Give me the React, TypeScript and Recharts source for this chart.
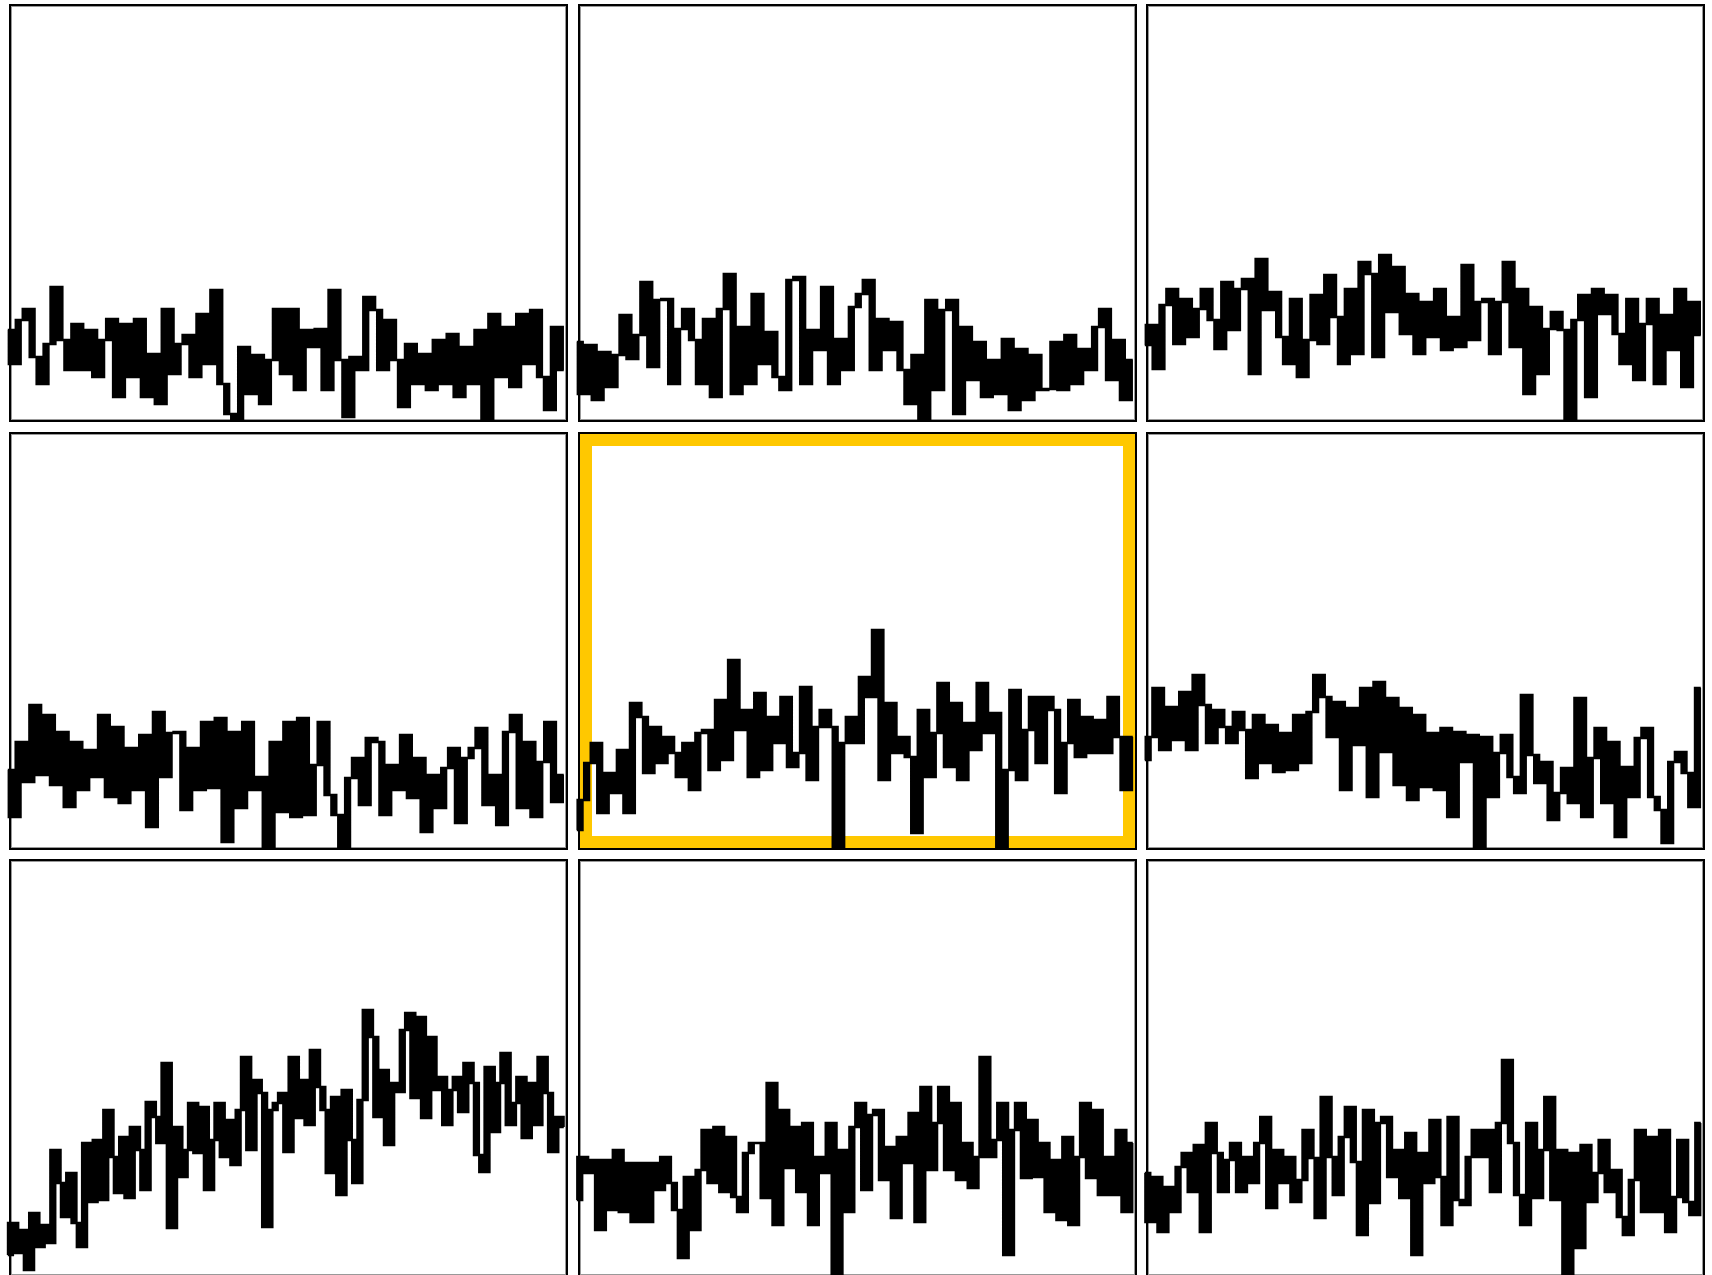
import React from 'react';
import { LineChart, Line, XAxis, YAxis } from 'recharts';

// Heights of each series, in the panel's own units (0 = panel bottom, 418 = panel top)
const panel1 = [92,58,102,113,65,38,78,135,82,52,98,52,92,45,82,103,25,98,45,103,25,68,18,113,48,78,87,45,108,58,132,38,8,0,75,28,67,18,62,113,48,113,32,92,75,93,32,132,62,5,65,52,125,112,52,102,62,15,78,38,68,32,82,38,88,25,75,38,92,0,108,45,95,35,108,58,112,45,12,95,52];
const panel2 = [80,28,77,22,70,35,67,107,63,87,140,55,122,123,38,93,113,82,38,103,25,113,148,28,95,38,128,58,90,45,32,142,145,38,92,72,135,38,83,52,115,128,142,52,103,72,100,52,18,67,0,122,32,112,122,8,95,42,80,25,62,28,83,12,73,22,67,32,33,80,32,87,38,73,52,95,113,42,82,22,62];
const panel3 = [77,97,53,117,133,78,123,85,113,133,102,73,140,92,133,143,48,163,112,130,85,58,123,45,82,127,78,147,105,58,133,68,160,148,65,167,110,155,88,128,68,120,85,133,72,105,75,157,82,120,123,68,120,160,75,133,28,115,48,93,110,92,0,102,127,25,133,108,127,88,58,123,42,98,123,38,107,72,133,35,120,87];
const panel4 = [80,33,108,68,145,75,135,65,118,43,108,60,100,73,135,53,123,47,102,60,115,23,138,73,117,118,40,102,60,128,62,132,8,118,42,128,60,73,0,108,38,128,33,132,35,85,128,55,35,0,72,92,45,112,108,35,85,60,115,52,92,18,75,42,82,102,27,92,102,122,45,75,25,118,135,42,108,33,88,128,48,75];
const panel5 = [20,50,87,107,37,77,57,100,37,147,133,77,123,87,113,97,73,107,60,117,120,80,150,90,190,120,140,73,157,80,133,107,153,83,97,163,70,123,140,123,0,107,133,107,173,153,220,70,147,97,113,93,17,140,73,117,167,83,147,70,127,100,167,117,137,0,80,160,70,120,153,87,153,140,57,107,150,93,133,97,130,97,153,113,60,113];
const panel6 = [90,113,162,100,143,110,158,100,175,145,107,140,123,107,138,120,72,135,87,125,78,117,80,135,87,138,175,153,113,148,60,142,105,162,53,168,98,152,65,142,50,135,63,117,60,122,33,118,88,115,0,113,53,97,115,73,57,155,95,67,88,30,57,82,47,152,33,92,122,47,108,13,83,53,112,122,53,40,7,88,98,77,43,162];
const panel7 = [22,54,24,47,7,64,30,52,34,127,94,60,104,54,30,134,75,137,77,167,120,84,140,79,150,127,87,175,160,134,214,49,150,100,127,174,124,170,87,137,174,120,157,112,167,220,127,197,184,50,167,174,184,125,220,159,197,152,227,190,167,104,180,82,187,137,94,177,267,240,160,207,132,194,185,247,264,179,260,159,240,187,200,152,187,200,165,214,194,122,105,210,145,194,224,152,174,200,139,194,152,220,184,125,160,150];
const panel8 = [77,120,104,117,47,117,67,127,65,114,55,114,55,114,87,120,94,67,19,100,47,107,147,94,150,85,140,80,65,124,134,134,79,194,52,167,109,150,85,154,52,120,104,154,2,127,65,150,174,87,162,167,97,130,59,140,114,164,55,190,107,154,190,107,174,97,134,89,120,220,120,137,174,22,147,174,99,157,100,134,65,117,57,140,52,120,174,99,167,82,120,82,147,65,134];
const panel9 = [104,55,100,45,90,65,110,124,85,132,45,154,124,85,117,134,85,120,94,134,160,69,127,94,120,75,97,147,119,59,180,120,82,140,170,115,42,167,74,154,160,100,127,79,144,22,124,94,157,100,52,160,77,72,120,147,120,147,85,154,217,134,82,52,154,79,127,180,77,127,2,124,29,132,75,104,137,85,107,60,42,97,147,65,140,65,147,45,80,137,75,62,154];

const panels = [panel1, panel2, panel3, panel4, panel5, panel6, panel7, panel8, panel9];
const highlightedPanel = 4;

const PANEL_W = 559;
const PANEL_H = 418;
const COL_PITCH = 568.5;
const ROW_PITCH = 427.5;
const LEFT0 = 9;
const TOP0 = 4;
const K = 2.7; // horizontal stretch of the sparkline
const MX = 4;
const MY = 6;

function Spark({ values, left, top }: { values: number[]; left: number; top: number }) {
  const data = values.map((v, i) => ({ i, v }));
  const plotW = (PANEL_W - 3) / K;
  const cw = plotW + 2 * MX;
  const ch = PANEL_H + 2 * MY;
  return (
    <div
      style={{
        position: 'absolute',
        left: left - 1 - MX * K,
        top: top - MY,
        width: cw,
        height: ch,
        transform: `scaleX(${K})`,
        transformOrigin: '0 0',
      }}
    >
      <LineChart width={cw} height={ch} data={data} margin={{ top: MY, bottom: MY, left: MX, right: MX }}>
        <XAxis dataKey="i" type="number" domain={[0, values.length - 1]} hide height={0} />
        <YAxis type="number" domain={[0, PANEL_H]} hide width={0} allowDataOverflow />
        <Line
          type="step"
          dataKey="v"
          stroke="#000"
          strokeWidth={2.7}
          dot={false}
          activeDot={false}
          isAnimationActive={false}
        />
      </LineChart>
    </div>
  );
}

export default function App() {
  const pos = panels.map((_, idx) => {
    const r = Math.floor(idx / 3);
    const c = idx % 3;
    return { left: LEFT0 + c * COL_PITCH, top: TOP0 + r * ROW_PITCH };
  });
  return (
    <div
      style={{
        position: 'absolute',
        left: 0,
        top: 0,
        width: 1712,
        height: 1275,
        overflow: 'hidden',
        background: '#fff',
      }}
    >
      {pos.map((p, idx) => (
        <div
          key={'box' + idx}
          style={{
            position: 'absolute',
            left: p.left,
            top: p.top,
            width: PANEL_W,
            height: PANEL_H,
            boxSizing: 'border-box',
            border: '2px solid #000',
            boxShadow: 'inset 0 0 0 1px #999',
            background: '#fff',
          }}
        >
          {idx === highlightedPanel && (
            <div
              style={{
                position: 'absolute',
                left: 0,
                top: 0,
                right: 0,
                bottom: 0,
                border: '12px solid #FFC800',
              }}
            />
          )}
        </div>
      ))}
      {pos.map((p, idx) => (
        <Spark key={'spark' + idx} values={panels[idx]} left={p.left} top={p.top} />
      ))}
    </div>
  );
}
